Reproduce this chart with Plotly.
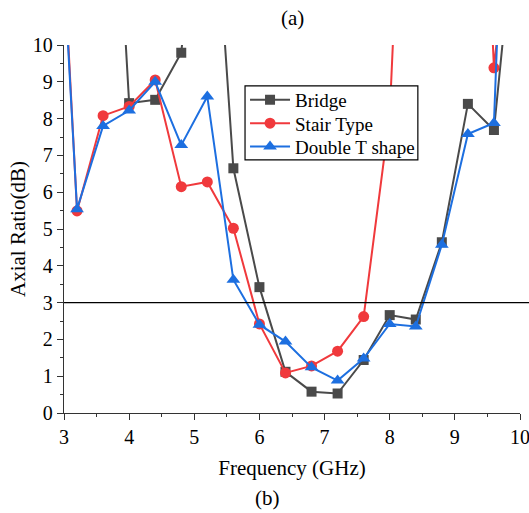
import plotly.graph_objects as go

# ---- data ----
freq = [3.0, 3.2, 3.6, 4.0, 4.4, 4.8, 5.2, 5.6, 6.0, 6.4, 6.8, 7.2, 7.6, 8.0, 8.4, 8.8, 9.2, 9.6, 10.0]
bridge = [None, None, 20.8, 8.42, 8.51, 9.79, 17.1, 6.65, 3.42, 1.12, 0.58, 0.53, 1.44, 2.66, 2.54, 4.64, 8.40, 7.69, 14.8]
stair = [12.3, 5.49, 8.08, 8.33, 9.05, 6.15, 6.28, 5.02, 2.42, 1.09, 1.28, 1.68, 2.62, 8.1, 24.0, 28.0, 25.0, 9.38, 16.0]
double_t = [12.0, 5.54, 7.80, 8.22, 9.0, 7.28, 8.6, 3.62, 2.40, 1.94, 1.24, 0.88, 1.48, 2.42, 2.35, 4.57, 7.58, 7.88, 26.5]
threshold = 3

names = ["Bridge", "Stair Type", "Double T shape"]
colors = ["#4a4a4a", "#f0393c", "#1d6fe0"]
symbols = ["square", "circle", "triangle-up"]
sizes = [10, 11, 12]
series = [bridge, stair, double_t]
legend_ids = ["legend", "legend2", "legend3"]
legend_y = [0.851, 0.787, 0.724]

FONT = "Liberation Serif"

fig = go.Figure()
for name, ys, c, s, sz, lg in zip(names, series, colors, symbols, sizes, legend_ids):
    fig.add_trace(go.Scatter(
        x=freq, y=ys, name=name, mode="lines+markers",
        line=dict(color=c, width=2),
        marker=dict(symbol=s, size=sz, color=c, line=dict(width=0)),
        connectgaps=False, legend=lg,
    ))

fig.add_shape(type="line", xref="paper", yref="y", x0=0, x1=1.02,
              y0=threshold, y1=threshold, line=dict(color="black", width=1.3))
# legend frame
fig.add_shape(type="rect", xref="paper", yref="paper", x0=0.397, x1=0.776,
              y0=0.688, y1=0.889, layer="above",
              fillcolor="white", line=dict(color="black", width=1.2))

axis_common = dict(
    showline=True, linecolor="#333333", linewidth=1.3,
    ticks="outside", ticklen=6, tickwidth=1.3, tickcolor="#333333",
    showgrid=False, zeroline=False, mirror=False,
    tickfont=dict(family=FONT, size=20, color="black"),
    ticklabeloverflow="allow", automargin=False,
)

fig.update_xaxes(
    range=[3, 10], dtick=1, tick0=3,
    minor=dict(ticks="outside", ticklen=3, dtick=0.5, tickcolor="#333333", tickwidth=1.3),
    title=dict(text="Frequency (GHz)", font=dict(family=FONT, size=21, color="black"), standoff=13),
    **axis_common,
)
fig.update_yaxes(
    range=[0, 10], dtick=1, tick0=0,
    minor=dict(ticks="outside", ticklen=3, dtick=0.5, tickcolor="#333333", tickwidth=1.3),
    title=dict(text="Axial Ratio(dB)", font=dict(family=FONT, size=21, color="black"), standoff=1),
    **axis_common,
)

fig.add_annotation(text="(a)", xref="paper", yref="paper", x=0.5, y=1.073,
                   showarrow=False, xanchor="center", yanchor="middle",
                   font=dict(family=FONT, size=21, color="black"))
fig.add_annotation(text="(b)", xref="paper", yref="paper", x=0.447, y=-0.232,
                   showarrow=False, xanchor="center", yanchor="middle",
                   font=dict(family=FONT, size=21, color="black"))

legend_style = dict(
    x=0.397, xanchor="left", yanchor="middle",
    borderwidth=0, bgcolor="rgba(0,0,0,0)",
    font=dict(family=FONT, size=19, color="black"),
    itemwidth=40,
)
layout_legends = {lg: dict(y=ly, **legend_style) for lg, ly in zip(legend_ids, legend_y)}

fig.update_layout(
    width=529, height=513,
    margin=dict(l=64, r=9, t=45, b=100, autoexpand=False),
    plot_bgcolor="white", paper_bgcolor="white",
    font=dict(family=FONT, color="black"),
    showlegend=True,
    **layout_legends,
)

fig.write_html("out.html")
